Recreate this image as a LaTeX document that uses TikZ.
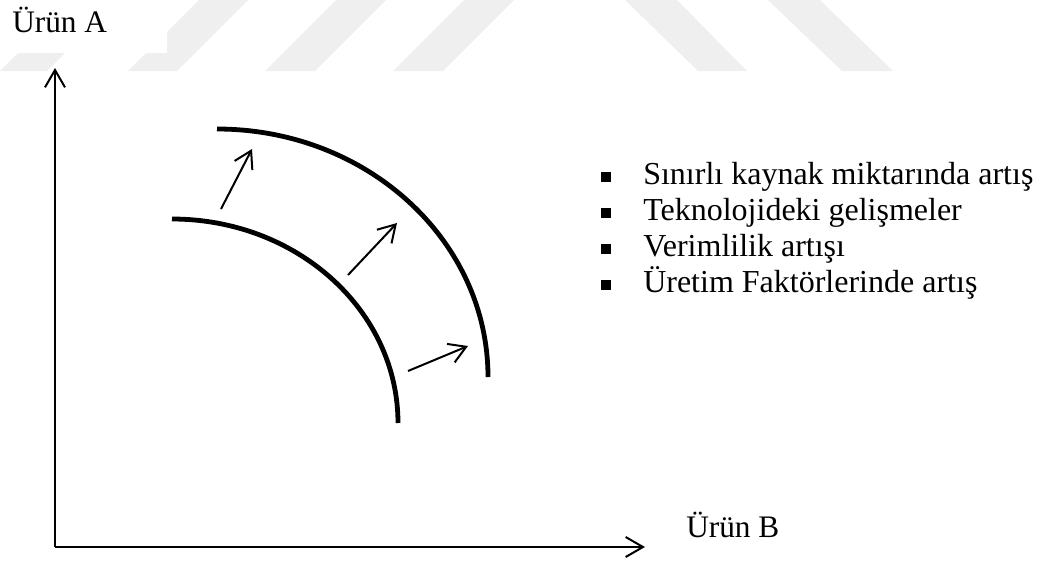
\documentclass[tikz,border=0pt]{standalone}
\usepackage{fontspec}
\setmainfont{Liberation Serif}
\usetikzlibrary{arrows.meta}
\definecolor{wm}{HTML}{EFEFEF}
\begin{document}
\begin{tikzpicture}[x=0.75pt,y=-0.75pt,
  axisline/.style={line width=1.5pt,-{Straight Barb[length=13pt,width=15pt,line width=1.5pt]}},
  shiftarrow/.style={line width=1.5pt,-{Straight Barb[length=12.5pt,width=15pt,line width=1.5pt]}},
  ppf/.style={line width=3.6pt},
  lbl/.style={inner sep=0pt,anchor=base west,font=\fontsize{23.5}{27}\selectfont},
  item/.style={inner sep=0pt,anchor=base west,font=\fontsize{24}{27}\selectfont},
  bulletsq/.style={fill=black,inner sep=0pt,minimum size=7.5pt,draw=none}]
\useasboundingbox (0,0) rectangle (1050,561);
% faint watermark stripes
\fill[wm] (0,71) -- (47,71) -- (65,53) -- (18,53) -- cycle;
\fill[wm] (128,71) -- (146,53) -- (167,53) -- (167,32) -- (199,0) -- (248,0) -- (177,71) -- cycle;
\fill[wm] (265,71) -- (315,71) -- (386,0) -- (336,0) -- cycle;
\fill[wm] (393,71) -- (443,71) -- (514,0) -- (464,0) -- cycle;
\fill[wm] (625,0) -- (677,0) -- (747,71) -- (698,71) -- cycle;
\fill[wm] (768,0) -- (820,0) -- (893,71) -- (842,71) -- cycle;
% axes
\coordinate (origin) at (55,547);
\coordinate (ytip) at (55,68);
\coordinate (xtip) at (645,547);
\draw[axisline] (origin) -- (ytip);
\draw[axisline] (origin) -- (xtip);
\node[lbl] (labelA) at (12,32) {Ürün A};
\node[lbl] (labelB) at (686,537) {Ürün B};
% production possibility curves
\coordinate (inS) at (172,219);
\coordinate (inE) at (398,423);
\coordinate (outS) at (217,129);
\coordinate (outE) at (488,377);
\draw[ppf] (inS) .. controls (296.8,219) and (398,310.3) .. (inE);
\draw[ppf] (outS) .. controls (366.7,129) and (488,240) .. (outE);
% shift arrows
\coordinate (a1s) at (221,209);
\coordinate (a1e) at (252,149);
\coordinate (a2s) at (348,275);
\coordinate (a2e) at (397,223);
\coordinate (a3s) at (408,371);
\coordinate (a3e) at (468,346);
\draw[shiftarrow] (a1s) -- (a1e);
\draw[shiftarrow] (a2s) -- (a2e);
\draw[shiftarrow] (a3s) -- (a3e);
% list
\node[bulletsq] (b1) at (606,177) {};
\node[bulletsq] (b2) at (606,213) {};
\node[bulletsq] (b3) at (606,249) {};
\node[bulletsq] (b4) at (606,285) {};
\node[item] (t1) at (643,184) {Sınırlı kaynak miktarında artış};
\node[item] (t2) at (643,220) {Teknolojideki gelişmeler};
\node[item] (t3) at (643,256) {Verimlilik artışı};
\node[item] (t4) at (643,292) {Üretim Faktörlerinde artış};
\end{tikzpicture}
\end{document}
